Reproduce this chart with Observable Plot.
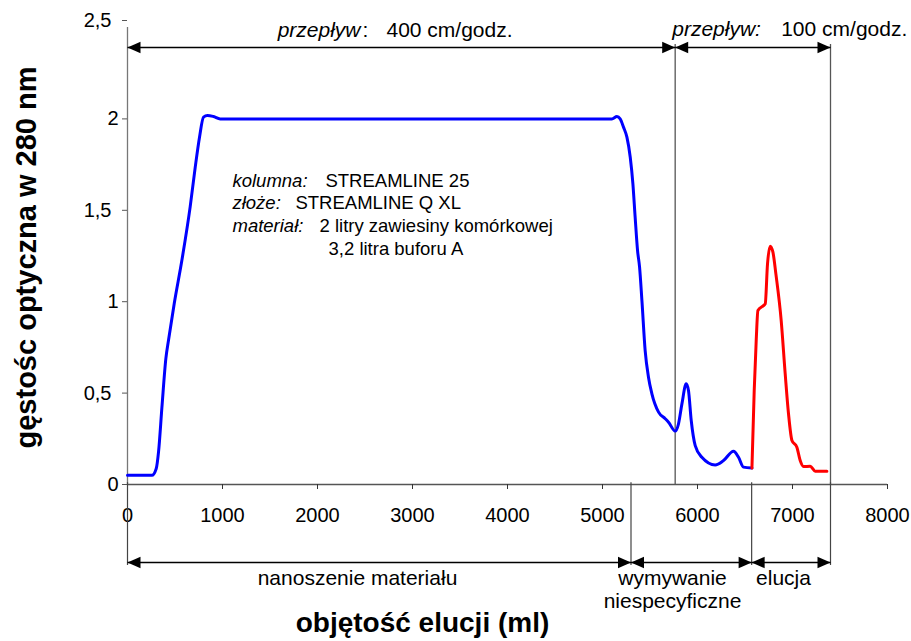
<!DOCTYPE html>
<html>
<head>
<meta charset="utf-8">
<script src="https://cdn.jsdelivr.net/npm/d3@7"></script>
<script src="https://cdn.jsdelivr.net/npm/@observablehq/plot@0.6"></script>
<style>
  html, body { margin: 0; padding: 0; background: #fff; }
  #chart svg { display: block; }
</style>
</head>
<body>
<div id="chart"></div>
<script>
// ---- data ----
const blueX = [0, 257, 302, 327, 362, 404, 432, 492, 572, 660, 713, 758, 800, 842, 905, 976,
  2500, 4765, 5099, 5152, 5186, 5221, 5257, 5292, 5320, 5344, 5369, 5390, 5415, 5449, 5484,
  5520, 5590, 5660, 5695, 5765, 5800, 5836, 5881, 5905, 5934, 5976, 6046, 6186, 6274, 6379,
  6432, 6484, 6573];
const blueY = [0.05, 0.05, 0.086, 0.18, 0.42, 0.69, 0.79, 0.99, 1.225, 1.52, 1.736, 1.90, 2.01, 2.019, 2.013, 2.0,
  2.0, 2.0, 2.0, 2.013, 2.0, 1.955, 1.90, 1.79, 1.645, 1.46, 1.28, 1.19, 1.006, 0.733, 0.587,
  0.496, 0.396, 0.36, 0.341, 0.292, 0.332, 0.441, 0.551, 0.514, 0.35, 0.213, 0.149, 0.107, 0.131, 0.182,
  0.149, 0.095, 0.09];
const redX = [6573, 6597, 6618, 6636, 6695, 6713, 6737, 6765, 6794, 6825, 6881, 6923, 6958, 6994,
  7046, 7081, 7116, 7186, 7239, 7362];
const redY = [0.09, 0.514, 0.788, 0.952, 0.979, 0.988, 1.207, 1.304, 1.271, 1.152, 0.897, 0.606, 0.387, 0.241,
  0.204, 0.131, 0.098, 0.10, 0.073, 0.073];

const xTicks = [0, 1000, 2000, 3000, 4000, 5000, 6000, 7000, 8000];
const yTicks = [0, 0.5, 1, 1.5, 2, 2.5];
const yTickLabels = ["0", "0,5", "1", "1,5", "2", "2,5"];

const flowBounds = [0, 5765, 7400];
const phaseBounds = [0, 5300, 6570, 7400];
const flowLabels = ["przepływ", ":", "400 cm/godz.", "przepływ:", "100 cm/godz."];
const infoKeys = ["kolumna:", "złoże:", "materiał:"];
const infoValues = ["STREAMLINE 25", "STREAMLINE Q XL", "2 litry zawiesiny komórkowej", "3,2 litra buforu A"];
const phaseLabels = ["nanoszenie materiału", "wymywanie", "niespecyficzne", "elucja"];
const xTitle = "objętość elucji (ml)";
const yTitle = "gęstośc optyczna w 280 nm";

// ---- helpers ----
const blue = blueX.map((x, i) => ({x, y: blueY[i]}));
const red = redX.map((x, i) => ({x, y: redY[i]}));
const flowSegs = d3.pairs(flowBounds);
const phaseSegs = d3.pairs(phaseBounds);
const yTopArrow = 2.3906, yBotArrow = -0.4267, yBotEnd = -0.443, yTopEnd = 2.407;

const triRight = {draw(ctx) { ctx.moveTo(0, 0); ctx.lineTo(-13, -5.8); ctx.lineTo(-13, 5.8); ctx.closePath(); }};
const triLeft = {draw(ctx) { ctx.moveTo(0, 0); ctx.lineTo(13, -5.8); ctx.lineTo(13, 5.8); ctx.closePath(); }};

const FONT = "'Liberation Sans', Arial, Helvetica, sans-serif";
function label(str, xv, yv, opts = {}) {
  return Plot.text([str], {x: () => xv, y: () => yv, text: d => d, lineAnchor: "bottom",
    textAnchor: "start", fill: "black", fontSize: 18.5, ...opts});
}
function arrows(segs, yv) {
  return [
    Plot.link(segs, {x1: d => d[0], x2: d => d[1], y1: () => yv, y2: () => yv, stroke: "black", strokeWidth: 1.4}),
    Plot.dot(segs, {x: d => d[1], y: () => yv, symbol: triRight, fill: "black", stroke: "none"}),
    Plot.dot(segs, {x: d => d[0], y: () => yv, symbol: triLeft, fill: "black", stroke: "none"})
  ];
}
const tickLab = d => yTickLabels[yTicks.indexOf(d)];

const chart = Plot.plot({
  width: 911,
  height: 641,
  marginLeft: 127,
  marginRight: 24,
  marginTop: 27,
  marginBottom: 157,
  style: {fontFamily: FONT, fontSize: "20px", color: "black", background: "white", overflow: "visible"},
  x: {type: "linear", domain: [0, 8000]},
  y: {type: "linear", domain: [0, 2.5]},
  marks: [
    // axis lines
    Plot.ruleX([0], {y1: 0, y2: 2.5, stroke: "#777", strokeWidth: 1.3}),
    Plot.ruleY([0], {x1: 0, x2: 8000, stroke: "#555", strokeWidth: 1.3}),
    Plot.axisX(xTicks, {tickSize: 5, tickPadding: 18, tickFormat: d => String(d), fontSize: 20, stroke: "#333", label: null}),
    Plot.axisY(yTicks.filter(d => d % 1 === 0), {tickSize: 5, tickPadding: 4, tickFormat: tickLab, fontSize: 20, stroke: "#555", label: null}),
    Plot.axisY(yTicks.filter(d => d % 1 !== 0 && d < 2.5), {tickSize: 5, tickPadding: 11, tickFormat: tickLab, fontSize: 20, stroke: "#555", label: null}),
    Plot.axisY(yTicks.filter(d => d === 2.5), {tickSize: 5, tickPadding: 11, dy: -7, tickFormat: tickLab, fontSize: 20, stroke: "#555", label: null}),

    // separator lines
    Plot.ruleX(flowBounds.slice(1), {y1: () => yTopEnd, y2: () => 0, stroke: "#555", strokeWidth: 1.3}),
    Plot.ruleX(phaseBounds, {y1: () => 0.01, y2: () => yBotEnd, stroke: "#444", strokeWidth: 1.2}),

    // arrows
    ...arrows(flowSegs, yTopArrow),
    ...arrows(phaseSegs, yBotArrow),

    // curves
    Plot.line(blue, {x: "x", y: "y", stroke: "#0000ff", strokeWidth: 3, curve: "monotone-x"}),
    Plot.line(red, {x: "x", y: "y", stroke: "#ff0000", strokeWidth: 3, curve: "monotone-x"}),

    // flow labels
    label(flowLabels[0], 2453, 2.448, {textAnchor: "end", fontStyle: "italic", fontSize: 21}),
    label(flowLabels[1], 2474, 2.448, {fontSize: 21}),
    label(flowLabels[2], 2726, 2.448, {fontSize: 21}),
    label(flowLabels[3], 5734, 2.456, {fontStyle: "italic", fontSize: 21}),
    label(flowLabels[4], 6881, 2.456, {fontSize: 21}),

    // info block
    label(infoKeys[0], 1105, 1.630, {fontStyle: "italic"}),
    label(infoValues[0], 2084, 1.630),
    label(infoKeys[1], 1105, 1.507, {fontStyle: "italic"}),
    label(infoValues[1], 1768, 1.507),
    label(infoKeys[2], 1105, 1.384, {fontStyle: "italic"}),
    label(infoValues[2], 2021, 1.384),
    label(infoValues[3], 2116, 1.258),

    // phase labels
    label(phaseLabels[0], 2421, -0.5525, {textAnchor: "middle", fontSize: 21}),
    label(phaseLabels[1], 5737, -0.5525, {textAnchor: "middle", fontSize: 21}),
    label(phaseLabels[2], 5737, -0.678, {textAnchor: "middle", fontSize: 21}),
    label(phaseLabels[3], 6905, -0.5525, {textAnchor: "middle", fontSize: 21}),

    // axis titles
    label(xTitle, 3105, -0.8096, {textAnchor: "middle", fontWeight: "bold", fontSize: 28}),
    Plot.text([yTitle], {x: () => -1056, y: () => 1.2418, text: d => d, rotate: -90, textAnchor: "middle",
      lineAnchor: "middle", fontWeight: "bold", fontSize: 29, fill: "black"})
  ]
});
document.getElementById("chart").appendChild(chart);
</script>
</body>
</html>
